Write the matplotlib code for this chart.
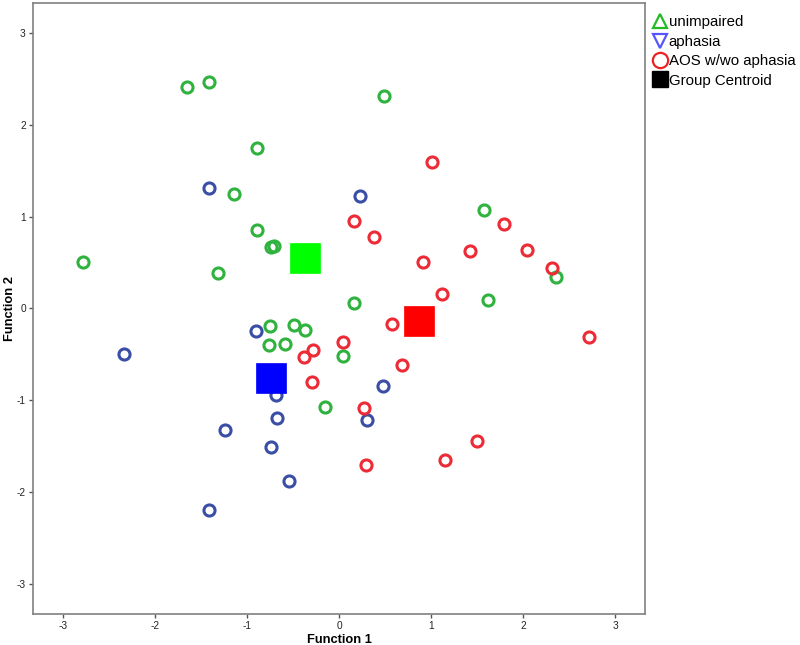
import matplotlib
matplotlib.use("Agg")
import matplotlib.pyplot as plt
from matplotlib.lines import Line2D

plt.rcParams['font.family'] = ['Liberation Sans', 'DejaVu Sans']

# Discriminant scores (Function 1, Function 2)
unimpaired_f1 = [-1.655, -1.413, 0.492, -0.891, -1.138, -0.895, -0.742, -0.703, -1.315, -2.783,
                 0.160, 1.573, 1.620, 2.355, -0.747, -0.489, -0.370, -0.764, -0.587, 0.047, -0.155]
unimpaired_f2 = [2.410, 2.465, 2.312, 1.745, 1.250, 0.851, 0.665, 0.676, 0.382, 0.505,
                 0.058, 1.075, 0.087, 0.341, -0.196, -0.182, -0.237, -0.397, -0.386, -0.523, -1.080]

aphasia_f1 = [-0.902, -0.688, -0.677, -1.239, -0.739, -0.543, -1.416, 0.475, 0.304, -1.410, 0.228, -2.337]
aphasia_f2 = [-0.244, -0.945, -1.200, -1.324, -1.516, -1.876, -2.200, -0.851, -1.215, 1.312, 1.221, -0.498]

aos_f1 = [1.014, 0.166, 0.384, 1.793, 1.427, 2.040, 0.910, 2.317, 1.116, 0.579,
          0.043, 0.682, 2.714, 0.268, 1.500, 1.152, 0.290, -0.279, -0.377, -0.290]
aos_f2 = [1.595, 0.952, 0.781, 0.923, 0.622, 0.636, 0.505, 0.439, 0.153, -0.174,
          -0.371, -0.622, -0.313, -1.091, -1.450, -1.651, -1.709, -0.455, -0.534, -0.800]

centroid_groups = ["unimpaired", "aphasia", "AOS w/wo aphasia"]
centroid_f1 = [-0.37, -0.74, 0.87]
centroid_f2 = [0.55, -0.76, -0.14]

tick_values = [-3, -2, -1, 0, 1, 2, 3]
legend_labels = ["unimpaired", "aphasia", "AOS w/wo aphasia", "Group Centroid"]

c_green, c_blue, c_red = "#2fb23e", "#3a4ea6", "#ec2b36"
cent_colors = ["#00ff00", "#0000ff", "#ff0000"]

fig = plt.figure(figsize=(8, 6.45), dpi=100)
ax = fig.add_axes([0.0409, 0.0481, 0.7658, 0.9478])

ms, mew = 8.0, 2.2
ax.plot(unimpaired_f1, unimpaired_f2, 'o', ls='none', ms=ms, mew=mew, mfc='none', mec=c_green, zorder=3)
ax.plot(aphasia_f1, aphasia_f2, 'o', ls='none', ms=ms, mew=mew, mfc='none', mec=c_blue, zorder=3)
ax.plot(aos_f1, aos_f2, 'o', ls='none', ms=ms, mew=mew, mfc='none', mec=c_red, zorder=3)
for x, y, c in zip(centroid_f1, centroid_f2, cent_colors):
    ax.plot([x], [y], 's', ms=21, mfc=c, mec=c, mew=0.5, zorder=4)

ax.set_xlim(-3.33, 3.33)
ax.set_ylim(-3.33, 3.33)
ax.set_xticks(tick_values)
ax.set_yticks(tick_values)
ax.set_xticklabels([str(t) for t in tick_values])
ax.set_yticklabels([str(t) for t in tick_values])
ax.tick_params(direction='out', length=3, width=1, colors='#555555', labelsize=7.3, labelcolor='#222222', pad=2)
for s in ax.spines.values():
    s.set_color('#808080')
    s.set_linewidth(1.2)

ax.set_xlabel("Function 1", fontsize=9.3, fontweight='bold')
ax.set_ylabel("Function 2", fontsize=9.3, fontweight='bold')
ax.xaxis.set_label_coords(0.5, -0.0325)
ax.yaxis.set_label_coords(-0.027, 0.5)

handles = [
    Line2D([], [], ls='none', marker='^', ms=10, mfc='none', mec='#22bb22', mew=1.6),
    Line2D([], [], ls='none', marker='v', ms=10, mfc='none', mec='#5555ff', mew=1.6),
    Line2D([], [], ls='none', marker='o', ms=11, mfc='none', mec='#ee2222', mew=1.6),
    Line2D([], [], ls='none', marker='s', ms=11, mfc='black', mec='black'),
]
fig.legend(handles, legend_labels, loc='upper left', bbox_to_anchor=(0.817, 0.976),
           frameon=False, fontsize=10.8, handlelength=0.9, handletextpad=0.1,
           labelspacing=0.36, borderaxespad=0, borderpad=0)

fig.savefig("out.png", dpi=100)
